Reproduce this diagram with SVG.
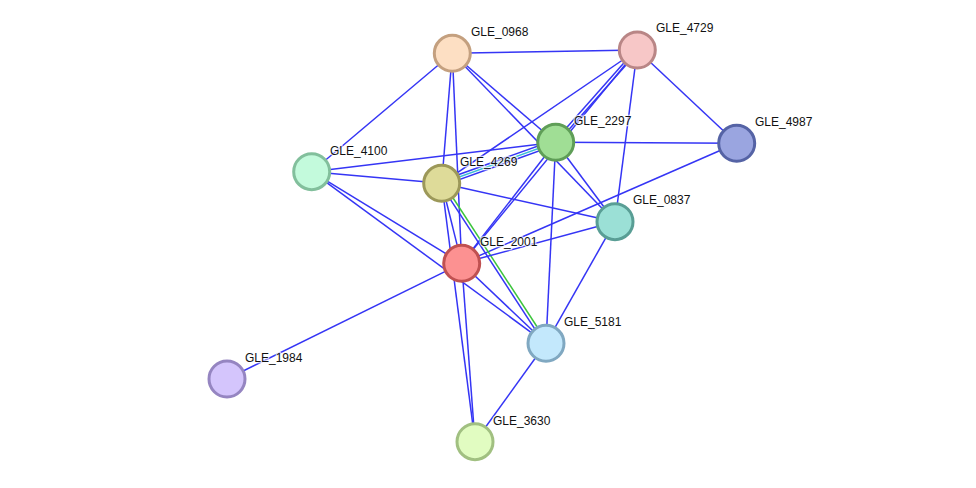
<svg xmlns="http://www.w3.org/2000/svg" width="976" height="488" viewBox="0 0 976 488">
<style>
.e{stroke:#3535f5;stroke-width:1.5;fill:none}
.c{stroke:#3cbfd4;stroke-width:1.5;fill:none}
.g{stroke:#3cc43c;stroke-width:1.5;fill:none}
.n{stroke-width:3}
.t{font-family:"Liberation Sans",Arial,sans-serif;font-size:12px;fill:#111;stroke:#fff;stroke-width:2.5;stroke-opacity:0.7;paint-order:stroke;stroke-linejoin:round}
</style>
<rect width="976" height="488" fill="#fff"/>
<g id="connectors">
<line class="e" x1="452.3" y1="53.3" x2="637.3" y2="50"/>
<line class="e" x1="452.3" y1="53.3" x2="311.7" y2="171.7"/>
<line class="e" x1="452.3" y1="53.3" x2="441.7" y2="183.3"/>
<line class="e" x1="452.3" y1="53.3" x2="461.7" y2="263.3"/>
<line class="e" x1="452.3" y1="53.3" x2="555.7" y2="142.3"/>
<line class="e" x1="452.3" y1="53.3" x2="615" y2="221.7"/>
<line class="e" x1="637.3" y1="50" x2="736.7" y2="143.3"/>
<line class="e" x1="637.3" y1="50" x2="615" y2="221.7"/>
<line class="e" x1="637.3" y1="50" x2="441.7" y2="183.3"/>
<line class="e" x1="636.2" y1="49" x2="554.6" y2="141.3"/>
<line class="e" x1="638.4" y1="51" x2="556.8" y2="143.3"/>
<line class="e" x1="637.3" y1="50" x2="461.7" y2="263.3"/>
<line class="e" x1="555.7" y1="142.3" x2="736.7" y2="143.3"/>
<line class="e" x1="555.7" y1="142.3" x2="311.7" y2="171.7"/>
<line class="e" x1="554.85" y1="139.95" x2="440.85" y2="180.95"/>
<line class="c" x1="555.7" y1="142.3" x2="441.7" y2="183.3"/>
<line class="e" x1="556.55" y1="144.65" x2="442.55" y2="185.65"/>
<line class="e" x1="555.7" y1="142.3" x2="461.7" y2="263.3"/>
<line class="e" x1="555.7" y1="142.3" x2="615" y2="221.7"/>
<line class="e" x1="555.7" y1="142.3" x2="546" y2="343.3"/>
<line class="e" x1="736.7" y1="143.3" x2="461.7" y2="263.3"/>
<line class="e" x1="311.7" y1="171.7" x2="441.7" y2="183.3"/>
<line class="e" x1="311.7" y1="171.7" x2="461.7" y2="263.3"/>
<line class="e" x1="311.7" y1="171.7" x2="546" y2="343.3"/>
<line class="e" x1="441.7" y1="183.3" x2="615" y2="221.7"/>
<line class="e" x1="441.7" y1="183.3" x2="461.7" y2="263.3"/>
<line class="e" x1="441.7" y1="183.3" x2="475" y2="441.7"/>
<line class="e" x1="440.4" y1="184.1" x2="544.7" y2="344.1"/>
<line class="g" x1="443" y1="182.5" x2="547.3" y2="342.5"/>
<line class="e" x1="615" y1="221.7" x2="461.7" y2="263.3"/>
<line class="e" x1="615" y1="221.7" x2="546" y2="343.3"/>
<line class="e" x1="461.7" y1="263.3" x2="546" y2="343.3"/>
<line class="e" x1="461.7" y1="263.3" x2="475" y2="441.7"/>
<line class="e" x1="461.7" y1="263.3" x2="227" y2="379"/>
<line class="e" x1="546" y1="343.3" x2="475" y2="441.7"/>
</g>
<g id="GLE_0968"><circle class="n" cx="452.3" cy="53.3" r="18" fill="#fddfc3" stroke="#c4a07f"/><text class="t" x="471" y="36">GLE_0968</text></g>
<g id="GLE_4729"><circle class="n" cx="637.3" cy="50" r="18" fill="#f7c7c7" stroke="#b98686"/><text class="t" x="656" y="32">GLE_4729</text></g>
<g id="GLE_2297"><circle class="n" cx="555.7" cy="142.3" r="18" fill="#a0de95" stroke="#5f9e57"/><text class="t" x="574" y="125">GLE_2297</text></g>
<g id="GLE_4987"><circle class="n" cx="736.7" cy="143.3" r="18" fill="#9aa5e0" stroke="#5563a5"/><text class="t" x="755" y="126">GLE_4987</text></g>
<g id="GLE_4100"><circle class="n" cx="311.7" cy="171.7" r="18" fill="#c3fadc" stroke="#82bf9c"/><text class="t" x="330" y="155">GLE_4100</text></g>
<g id="GLE_4269"><circle class="n" cx="441.7" cy="183.3" r="18" fill="#dedb99" stroke="#9c9859"/><text class="t" x="460" y="166">GLE_4269</text></g>
<g id="GLE_0837"><circle class="n" cx="615" cy="221.7" r="18" fill="#9be0d6" stroke="#599e95"/><text class="t" x="633" y="204">GLE_0837</text></g>
<g id="GLE_2001"><circle class="n" cx="461.7" cy="263.3" r="18" fill="#fc9191" stroke="#c05151"/><text class="t" x="480" y="246">GLE_2001</text></g>
<g id="GLE_5181"><circle class="n" cx="546" cy="343.3" r="18" fill="#c3e8fc" stroke="#80a8c1"/><text class="t" x="564" y="326">GLE_5181</text></g>
<g id="GLE_1984"><circle class="n" cx="227" cy="379" r="18" fill="#d4c5fc" stroke="#9585c1"/><text class="t" x="245" y="362">GLE_1984</text></g>
<g id="GLE_3630"><circle class="n" cx="475" cy="441.7" r="18" fill="#e1fcc1" stroke="#a1c081"/><text class="t" x="493" y="425">GLE_3630</text></g>
</svg>
